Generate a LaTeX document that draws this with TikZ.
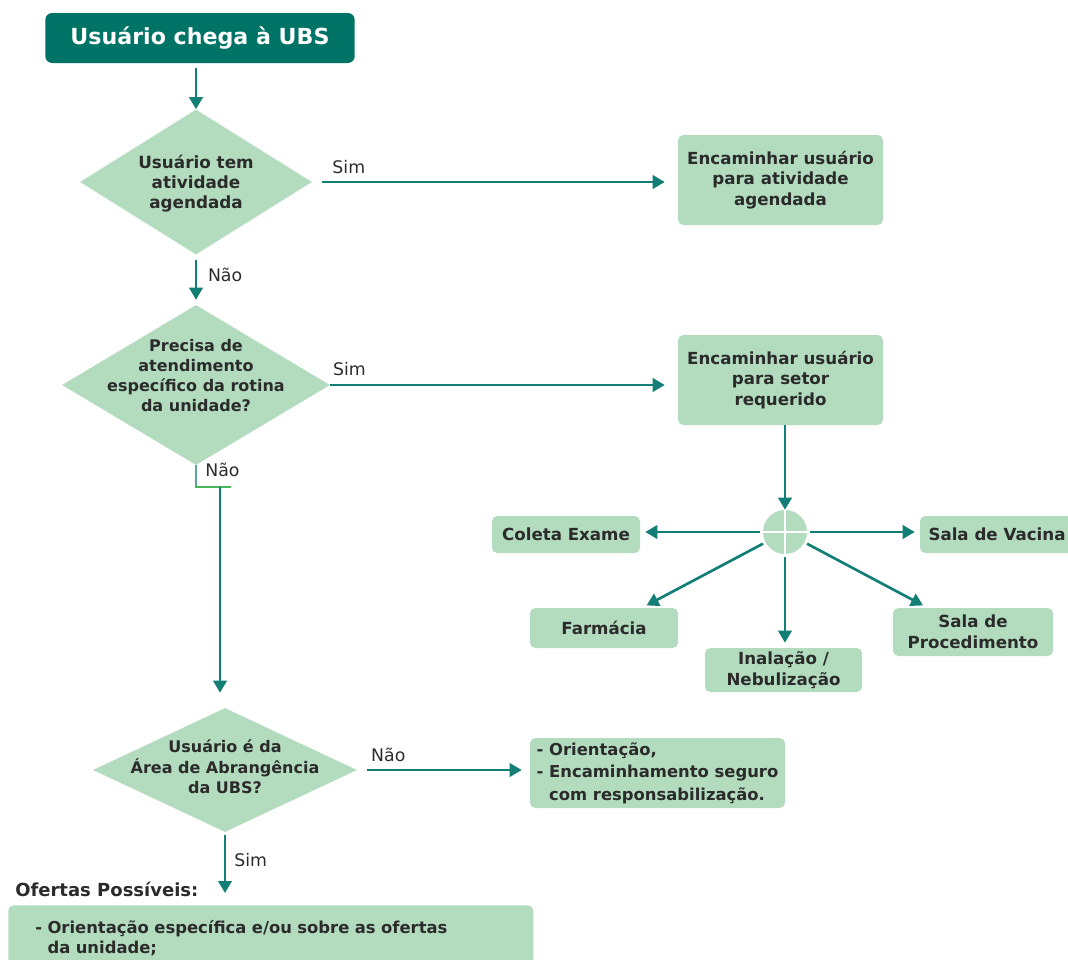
\documentclass[tikz,border=0pt]{standalone}
\usepackage{fontspec}
\setmainfont{DejaVu Sans}
\usetikzlibrary{shapes.geometric,arrows.meta}
\definecolor{tealdark}{HTML}{007367}
\definecolor{boxgreen}{HTML}{B3DCBF}
\definecolor{lineteal}{HTML}{127E76}
\definecolor{textgray}{HTML}{2B2B2B}
\definecolor{bendgreen}{HTML}{45B95A}
% text of a decision diamond, kept out of the shape's size
\newcommand{\losango}[2][0pt]{\makebox[0pt]{\smash{\raisebox{#1}{\begin{tabular}{@{}c@{}}#2\end{tabular}}}}}
\begin{document}
\begin{tikzpicture}[x=0.75pt,y=-0.75pt,>={Triangle[length=9pt,width=10pt]},
	start node/.style = {rectangle, rounded corners=5pt, fill=tealdark, text=white,
		font=\fontsize{16.6}{19}\selectfont\bfseries, minimum width=232pt, minimum height=37.5pt},
	decision node/.style = {diamond, fill=boxgreen, inner sep=0pt, text=textgray,
		font=\fontsize{12}{15}\selectfont\bfseries},
	process node/.style = {rectangle, rounded corners=4pt, fill=boxgreen, text=textgray,
		align=center, inner sep=2pt, font=\fontsize{12.5}{15.5}\selectfont\bfseries},
	flow line/.style = {->, draw=lineteal, line width=2pt},
	edge label/.style = {text=textgray, inner sep=0pt, font=\fontsize{13}{15}\selectfont}]
	\useasboundingbox (0,0) rectangle (1068,960);

	\node[start node] (start) at (200,38) {Usuário chega à UBS};
	\node[decision node, minimum width=174pt, minimum height=108.75pt,
		font=\fontsize{12.6}{15}\selectfont\bfseries] (agenda) at (196,182)
		{\losango[-4.5pt]{Usuário tem\\atividade\\agendada}};
	\node[process node, minimum width=153.75pt, minimum height=67.5pt] (ativ) at (780.5,180)
		{Encaminhar usuário\\para atividade\\agendada};
	\node[decision node, minimum width=201pt, minimum height=120pt] (rotina) at (196,385)
		{\losango[3pt]{Precisa de\\atendimento\\específico da rotina\\da unidade?}};
	\node[process node, minimum width=153.75pt, minimum height=67.5pt] (setor) at (780.5,380)
		{Encaminhar usuário\\para setor\\requerido};
	\node[circle, fill=boxgreen, inner sep=0pt, minimum size=33pt] (junc) at (785,532) {};
	\draw[white, line width=1.5pt] (junc.north) -- (junc.south) (junc.west) -- (junc.east);
	\node[process node, minimum width=111pt, minimum height=27.75pt] (coleta) at (566,534.5) {Coleta Exame};
	\node[process node, minimum width=115.5pt, minimum height=27.75pt] (vacina) at (997,534.5) {Sala de Vacina};
	\node[process node, minimum width=111pt, minimum height=30pt] (farmacia) at (604,628) {Farmácia};
	\node[process node, minimum width=117.75pt, minimum height=33pt] (inalacao) at (783.5,670)
		{Inalação /\\Nebulização};
	\node[process node, minimum width=120pt, minimum height=36pt] (procedimento) at (973,632)
		{Sala de\\Procedimento};
	\node[decision node, minimum width=198pt, minimum height=93pt] (area) at (225,770)
		{\losango[-2.25pt]{Usuário é da\\Área de Abrangência\\da UBS?}};
	\node[process node, align=left, minimum width=191.25pt, minimum height=52.5pt,
		font=\fontsize{12.3}{17}\selectfont\bfseries] (orient) at (657.5,773)
		{- Orientação,\\- Encaminhamento seguro\\\hphantom{- }com responsabilização.};
	\node[anchor=west, inner sep=0pt, text=textgray, font=\fontsize{13.5}{16}\selectfont\bfseries]
		(ofertas) at (15,889) {Ofertas Possíveis:};
	\node[process node, anchor=north west, align=left, inner xsep=20.25pt, text width=353.25pt,
		minimum width=393.75pt, minimum height=49.5pt, font=\fontsize{12.3}{15}\selectfont\bfseries]
		(lista) at (8,905)
		{- Orientação específica e/ou sobre as ofertas\\\hphantom{- }da unidade;};

	\coordinate (curva) at (220,487);

	\draw[flow line, shorten <=3.75pt] (agenda.north |- start.south) -- (agenda.north);
	\draw[flow line, shorten <=7.5pt, shorten >=9.75pt] (agenda.east)
		-- node[edge label, pos=0.1, above=5pt] (sim1) {Sim} (agenda.east -| ativ.west);
	\draw[flow line, shorten <=3.75pt, shorten >=3.75pt] (agenda.south)
		-- node[edge label, pos=0.4, right=8pt] (nao1) {Não} (rotina.north);
	\draw[flow line, shorten >=9.75pt] (rotina.east)
		-- node[edge label, pos=0.055, above=6pt] (sim2) {Sim} (rotina.east -| setor.west);
	\draw[draw=lineteal!70, line width=2pt] (rotina.south)
		-- node[edge label, pos=0.2, right=6pt] (nao2) {Não} (rotina.south |- curva);
	\draw[bendgreen, line width=1.5pt] ([xshift=-1pt]rotina.south |- curva) -- ++(36,0);
	\draw[flow line, shorten >=11.25pt] (curva) -- (curva |- area.north);
	\draw[flow line, shorten <=7.5pt, shorten >=6pt] (area.east)
		-- node[edge label, pos=0.18, above=5pt] (nao3) {Não} (area.east -| orient.west);
	\draw[flow line, shorten <=2pt, shorten >=9pt] (area.south)
		-- node[edge label, pos=0.38, right=6pt] (sim3) {Sim} (area.south |- lista.north);

	\draw[flow line] (junc |- setor.south) -- (junc);
	\draw[flow line, shorten <=2pt, shorten >=3.75pt] (junc.west) -- (junc.west -| coleta.east);
	\draw[flow line, shorten <=2pt, shorten >=3.75pt] (junc.east) -- (junc.east -| vacina.west);
	\draw[flow line, shorten <=2pt, shorten >=3.75pt] (junc) -- (farmacia);
	\draw[flow line, shorten <=2pt, shorten >=3.75pt] (junc) -- (procedimento);
	\draw[flow line, shorten <=2pt, shorten >=3.75pt] (junc.south) -- (junc.south |- inalacao.north);
\end{tikzpicture}
\end{document}
